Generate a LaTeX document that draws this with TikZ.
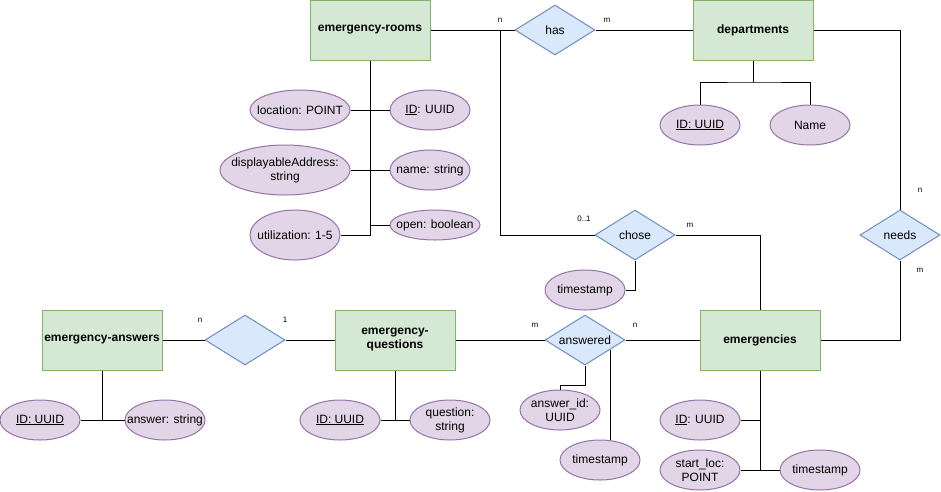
\documentclass[tikz,border=0pt]{standalone}
\usepackage{fontspec}
\setmainfont{Liberation Sans}
\usetikzlibrary{shapes.geometric,calc}

\definecolor{entfill}{HTML}{D5E8D4}
\definecolor{entline}{HTML}{82B366}
\definecolor{relfill}{HTML}{DAE8FC}
\definecolor{relline}{HTML}{6C8EBF}
\definecolor{attrfill}{HTML}{E1D5E7}
\definecolor{attrline}{HTML}{9673A6}

% text d'atribut que no eixampla l'el·lipse
\newcommand{\attxt}[1]{\makebox[0pt]{#1}}

\tikzset{
  entity/.style={draw=entline, fill=entfill, line width=1pt, minimum width=120pt,
    minimum height=60pt, inner sep=1pt, align=center,
    font=\bfseries\fontsize{12}{14}\selectfont},
  relation/.style={diamond, draw=relline, fill=relfill, line width=1pt, aspect=1.6,
    minimum width=80pt, minimum height=50pt, inner sep=0pt,
    font=\fontsize{12}{14}\selectfont},
  attr/.style={ellipse, draw=attrline, fill=attrfill, line width=1pt,
    minimum width=80pt, minimum height=40pt, inner sep=0pt, align=center,
    font=\fontsize{12}{14}\selectfont},
  card/.style={font=\fontsize{8}{9}\selectfont, inner sep=0pt}
}

\begin{document}
\begin{tikzpicture}[x=1pt, y=-1pt, line width=1pt]
  \useasboundingbox (0,0) rectangle (941,491);

  % entitats
  \node[entity] (rooms) at (370,30) {emergency-rooms};
  \node[entity] (dep) at (753,30) {departments};
  \node[entity] (ans) at (102,340) {emergency-answers};
  \node[entity] (quest) at (395,340) {emergency-\\questions};
  \node[entity] (emerg) at (760,340) {emergencies};

  % relacions
  \node[relation] (has) at (555,30) {has};
  \node[relation] (chose) at (635,235) {chose};
  \node[relation] (needs) at (900,235) {needs};
  \node[relation] (qa) at (245,340) {};
  \node[relation] (answered) at (585,340) {answered};

  % atributs
  \node[attr, minimum width=100pt] (rloc) at (300,110) {\attxt{location: POINT}};
  \node[attr] (rid) at (430,110) {\attxt{\underline{ID}: UUID}};
  \node[attr, minimum width=130pt, minimum height=50pt] (raddr) at (285,170)
    {\attxt{displayableAddress:}\\\attxt{string}};
  \node[attr] (rname) at (430,170) {\attxt{name: string}};
  \node[attr, minimum width=90pt, minimum height=50pt] (rutil) at (295,235) {\attxt{utilization: 1-5}};
  \node[attr, minimum width=90pt, minimum height=30pt] (ropen) at (435,225) {\attxt{open: boolean}};
  \node[attr] (did) at (700,125) {\attxt{\underline{ID: UUID}}};
  \node[attr] (dname) at (810,125) {\attxt{Name}};
  \node[attr] (chts) at (585,290) {\attxt{timestamp}};
  \node[attr] (aid) at (40,420) {\attxt{\underline{ID: UUID}}};
  \node[attr] (atext) at (165,420) {\attxt{answer: string}};
  \node[attr] (qid) at (340,420) {\attxt{\underline{ID: UUID}}};
  \node[attr] (qtext) at (450,420) {\attxt{question:}\\\attxt{string}};
  \node[attr] (answid) at (560,410) {\attxt{answer\_id:}\\\attxt{UUID}};
  \node[attr] (answts) at (600,460) {\attxt{timestamp}};
  \node[attr] (eid) at (700,420) {\attxt{\underline{ID}: UUID}};
  \node[attr] (eloc) at (700,470) {\attxt{start\_loc:}\\\attxt{POINT}};
  \node[attr] (ets) at (820,470) {\attxt{timestamp}};

  % cardinalitats
  \node[card] (c1) at (500,20) {n};
  \node[card] (c2) at (607,20) {m};
  \node[card] (c3) at (584,219) {0..1};
  \node[card] (c4) at (690,225) {m};
  \node[card] (c5) at (920,190) {n};
  \node[card] (c6) at (920,270) {m};
  \node[card] (c7) at (200,320) {n};
  \node[card] (c8) at (285,320) {1};
  \node[card] (c9) at (535,325) {m};
  \node[card] (c10) at (635,325) {n};

  % connexions
  \coordinate (rsplit) at (500,30);
  \coordinate (dbar) at (753,82);
  \draw (rooms) -- (has) -- (dep);
  \draw (rsplit) |- (chose.west);
  \draw (chose.east) -| (emerg.north);
  \draw (chose.south) |- (chts.east);
  \draw (dep.east) -| (needs.north);
  \draw (needs.south) |- (emerg.east);
  \draw (dep.south) -- (dbar);
  \draw (did.north) |- (dbar) -| (dname.north);
  \draw (rooms.south) |- (rutil.east);
  \draw (rloc) -- (rid);
  \draw (raddr) -- (rname);
  \draw (ropen.west) -- (ropen.west -| rooms.south);
  \draw (ans) -- (qa) -- (quest);
  \draw (quest) -- (answered) -- (emerg);
  \draw (ans.south) -- (ans.south |- aid.east);
  \draw (aid) -- (atext);
  \draw (quest.south) -- (quest.south |- qid.east);
  \draw (qid) -- (qtext);
  \draw (answered.south) -- ++(0,20) -| (answid.north);
  \coordinate (atap) at ($(answered.east)!0.375!(answered.south)$);
  \draw (atap) -- (atap |- answts.north);
  \draw (emerg.south) -- (emerg.south |- eloc.east);
  \draw (eid.east) -- (eid.east -| emerg.south);
  \draw (eloc) -- (ets);
\end{tikzpicture}
\end{document}
